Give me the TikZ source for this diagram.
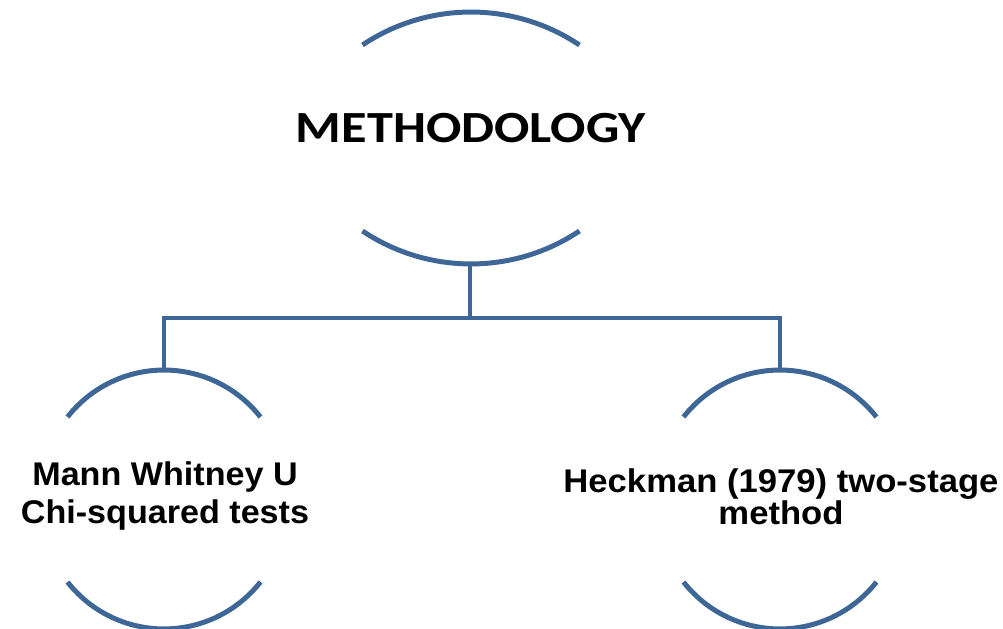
\documentclass[tikz,border=0pt]{standalone}
\usepackage{graphicx}
\usepackage{fontspec}
\setmainfont{Liberation Sans}
\newfontfamily\calibri{Carlito}
\definecolor{arcblue}{RGB}{62,103,152}

\tikzset{arcline/.style={draw=arcblue, line width=4.25pt},
	headtext/.style={font=\calibri\bfseries\fontsize{38}{44}\selectfont, inner sep=0pt},
	leaftext/.style={font=\bfseries\fontsize{28}{32}\selectfont, align=center, inner sep=0pt}}

\begin{document}
\begin{tikzpicture}[x=0.03cm, y=0.03cm]
			\useasboundingbox (0,0) rectangle (1003,629);
			% Head circle (only top and bottom arcs)
			\node[headtext, anchor=base] (meth) at (471,486) {\scalebox{1.175}[1]{METHODOLOGY}};
			\draw[arcline] (362.5,584) arc[start angle=123.8, end angle=56.2, radius=195];
			\draw[arcline] (362.5,398) arc[start angle=-123.8, end angle=-56.2, radius=195];
			\coordinate (meth-bot) at (470,364);
			
			% Leaf circles
			\foreach \cx/\nm in {164/mann, 780/heck} {
				\draw[arcline] (\cx-96.5,212) arc[start angle=141.9, end angle=38.1, radius=122.6];
				\draw[arcline] (\cx-96.5,47) arc[start angle=-141.9, end angle=-38.1, radius=122.6];
				\coordinate (\nm-top) at (\cx,259);
			}
			\node[leaftext] (mann) at (165,133) {\scalebox{1.04}[1]{Mann Whitney U}\\\scalebox{1.04}[1]{Chi-squared tests}};
			\node[leaftext, font=\bfseries\fontsize{28}{24}\selectfont] (heck) at (781,132) {\scalebox{1.056}[1]{Heckman (1979) two-stage}\\\scalebox{1.056}[1]{method}};
			
			% Connectors
			\coordinate (split) at (470,311);
			\draw[arcline] (meth-bot) -- (split) -| (mann-top);
			\draw[arcline] (split) -| (heck-top);
		\end{tikzpicture}
\end{document}
